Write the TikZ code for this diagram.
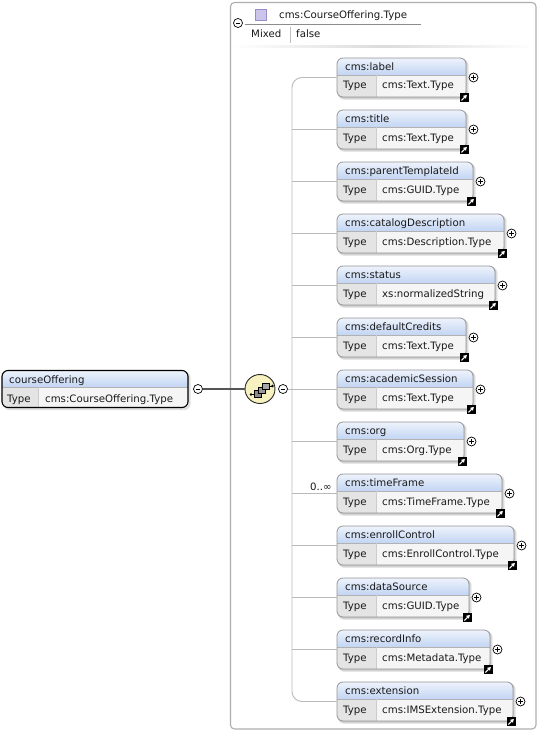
\documentclass[tikz,border=0pt]{standalone}
\usepackage{fontspec}
\setmainfont{DejaVu Sans}
\usetikzlibrary{fit,arrows.meta,shapes.geometric}
\definecolor{hdtop}{RGB}{238,243,252}
\definecolor{hdbot}{RGB}{194,213,243}
\definecolor{typecell}{RGB}{228,228,228}
\definecolor{valcell}{RGB}{245,245,245}
\definecolor{boxgray}{RGB}{150,150,150}
\definecolor{linegray}{RGB}{185,185,185}
\definecolor{framegray}{RGB}{175,175,175}
\definecolor{seqfill}{RGB}{247,241,192}
\definecolor{lavfill}{RGB}{205,196,236}
\definecolor{lavline}{RGB}{150,140,200}
\definecolor{darkline}{RGB}{85,85,85}
\definecolor{txtcol}{RGB}{25,25,25}
\tikzset{
 txt/.style={inner sep=0, font=\fontsize{10.2}{12}\selectfont, text=txtcol},
 signbase/.style={circle, draw=black, line width=0.7, fill=white, minimum size=9, inner sep=0},
 signminus/.style={signbase, path picture={\draw[line width=0.8] ([xshift=-2.3]path picture bounding box.center) -- ([xshift=2.3]path picture bounding box.center);}},
 signplus/.style={signbase, path picture={\draw[line width=0.8] ([xshift=-2.3]path picture bounding box.center) -- ([xshift=2.3]path picture bounding box.center) ([yshift=-2.3]path picture bounding box.center) -- ([yshift=2.3]path picture bounding box.center);}},
 linkicon/.style={fill=black, minimum size=9, inner sep=0, path picture={\draw[white, line width=1.1, -{Triangle[length=3.4,width=3.8]}] ([shift={(-2.6,2.6)}]path picture bounding box.center) -- ([shift={(2.9,-2.9)}]path picture bounding box.center);}},
 boxframe/.style={draw=boxgray, line width=0.8, rounded corners=6, inner sep=0},
}
\newcommand\elembox[5]{%
  \pgfmathsetmacro\bt{58+52*#2}%
  \pgfmathsetmacro\bb{\bt+39}%
  \pgfmathsetmacro\bh{\bt+17}%
  \pgfmathsetmacro\bc{\bt+19.5}%
  \fill[black, opacity=0.10, rounded corners=6] (338,\bt+1) rectangle (#3+2.6,\bb+2.8);
  \fill[black, opacity=0.12, rounded corners=6] (338,\bt+1) rectangle (#3+1.4,\bb+1.6);
  \begin{scope}
    \clip[rounded corners=6] (337,\bt) rectangle (#3,\bb);
    \shade[top color=hdtop, bottom color=hdbot] (337,\bt) rectangle (#3,\bh);
    \fill[typecell] (337,\bh) rectangle (376,\bb);
    \fill[valcell] (376,\bh) rectangle (#3,\bb);
  \end{scope}
  \draw[black!30] (337,\bh) -- (#3,\bh);
  \draw[black!20] (376,\bh) -- (376,\bb);
  \node[boxframe, fit={(337,\bt)(#3,\bb)}] (#1) {};
  \node[txt, anchor=base west] (#1-t) at (345,\bt+12.6) {#4};
  \node[txt, anchor=base west] (#1-k) at (343,\bt+31) {Type};
  \node[txt, anchor=base west] (#1-v) at (382,\bt+31) {#5};
  \node[signplus] (#1-p) at (#3+7.5,\bc) {};
  \node[linkicon] (#1-l) at (#3-2,\bb+0.8) {};
}
\begin{document}
\begin{tikzpicture}[x=1pt,y=-1pt]
\useasboundingbox (0,0) rectangle (538,733);
\fill[white] (0,0) rectangle (538,733);
% container frame
\node[fit={(230.5,2.5)(536,729)}, draw=framegray, line width=1.1, inner sep=0, rounded corners=4] (frame) {};
% type header
\node[signminus] (typem) at (238,23) {};
\node[fill=lavfill, draw=lavline, line width=0.6, minimum size=11, inner sep=0] (typeicon) at (260.5,14.5) {};
\node[txt, anchor=base west] (typename) at (279,18.4) {cms:CourseOffering.Type};
\draw[black!45] (245,24.5) -- (421,24.5);
\node[txt, anchor=base west] (mixed) at (251,38) {Mixed};
\draw[black!25] (290,27) -- (290,43);
\node[txt, anchor=base west] (false) at (296,38) {false};
\shade[left color=white, right color=white, middle color=black!14] (232,45.5) rectangle (534,48);
% root element
\fill[black, opacity=0.12, rounded corners=6] (3,371.5) rectangle (190.5,410);
\begin{scope}
  \clip[rounded corners=6] (2,370.5) rectangle (188,407.5);
  \shade[top color=hdtop, bottom color=hdbot] (2,370.5) rectangle (188,387);
  \fill[typecell] (2,387) rectangle (38,407.5);
  \fill[valcell] (38,387) rectangle (188,407.5);
\end{scope}
\draw[black!30] (2,387) -- (188,387);
\draw[black!20] (38,387) -- (38,407.5);
\node[draw=black, line width=1.1, rounded corners=6, inner sep=0, fit={(2,370.5)(188,407.5)}] (co) {};
\node[txt, anchor=base west] (co-t) at (9,383.5) {courseOffering};
\node[txt, anchor=base west] (co-k) at (7,402.5) {Type};
\node[txt, anchor=base west] (co-v) at (45,402.5) {cms:CourseOffering.Type};
\node[signminus] (com) at (198,389) {};
% sequence compositor
\node[ellipse, draw=black!85, line width=0.9, fill=seqfill, minimum width=30, minimum height=29, inner sep=0] (seq) at (260,389) {};
\draw[darkline, line width=1.6] (com.east) -- (seq.west);
\begin{scope}[line width=0.6]
  \draw[black] (251,394.5) -- (256,394.5);
  \fill[black] (251,394.5) circle (1.3);
  \draw[black] (269,386) -- (272.5,386);
  \fill[black] (272.5,386) circle (1.3);
  \filldraw[fill=black!45, draw=black] (254.5,390.5) rectangle (261,397);
  \filldraw[fill=black!40, draw=black] (258.5,387) rectangle (265,393.5);
  \filldraw[fill=black!35, draw=black] (262.5,383) rectangle (269,389.5);
\end{scope}
\node[signminus] (seqm) at (283,389) {};
\coordinate (brk) at (292,389);
% children
\elembox{label}{0}{466}{cms:label}{cms:Text.Type}
\elembox{title}{1}{466}{cms:title}{cms:Text.Type}
\elembox{ptid}{2}{473}{cms:parentTemplateId}{cms:GUID.Type}
\elembox{catdesc}{3}{504}{cms:catalogDescription}{cms:Description.Type}
\elembox{status}{4}{495}{cms:status}{xs:normalizedString}
\elembox{defcred}{5}{466}{cms:defaultCredits}{cms:Text.Type}
\elembox{acsess}{6}{473}{cms:academicSession}{cms:Text.Type}
\elembox{org}{7}{464}{cms:org}{cms:Org.Type}
\elembox{tframe}{8}{502}{cms:timeFrame}{cms:TimeFrame.Type}
\elembox{enroll}{9}{514}{cms:enrollControl}{cms:EnrollControl.Type}
\elembox{dsrc}{10}{469}{cms:dataSource}{cms:GUID.Type}
\elembox{rinfo}{11}{490}{cms:recordInfo}{cms:Metadata.Type}
\elembox{ext}{12}{513}{cms:extension}{cms:IMSExtension.Type}
% connectors
\draw[linegray, line width=0.9] (seqm.east) -- (brk);
\draw[linegray, line width=0.9, rounded corners=10] (label.west) -| (brk) |- (ext.west);
\foreach \n in {title,ptid,catdesc,status,defcred,acsess,org,tframe,enroll,dsrc,rinfo}
  \draw[linegray, line width=0.9] (brk |- \n.west) -- (\n.west);
\node[txt, anchor=base west] (occ) at (310,490) {0..∞};
\end{tikzpicture}
\end{document}
